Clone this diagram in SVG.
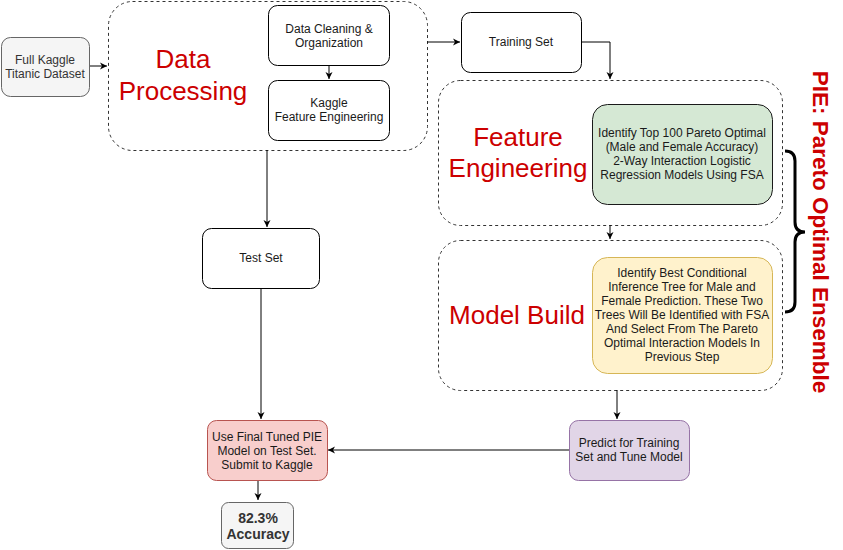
<svg xmlns="http://www.w3.org/2000/svg" width="843" height="550" viewBox="0 0 843 550">
<defs>
<marker id="arr" markerWidth="8" markerHeight="8" refX="7" refY="4" orient="auto" markerUnits="userSpaceOnUse">
<path d="M0,0.5 L7,4 L0,7.5 L2,4 z" fill="#000"/>
</marker>
<style>
.t{font-family:"Liberation Sans",Arial,sans-serif;font-size:12px;fill:#1a1a1a;text-anchor:middle}
.g{fill:#333}
.big{font-family:"Liberation Sans",Arial,sans-serif;font-size:26px;fill:#CC0000;text-anchor:middle}
.box{fill:#fff;stroke:#000;stroke-width:1}
.cont{fill:#fff;stroke:#333;stroke-width:1;stroke-dasharray:3 3}
.c{fill:none;stroke:#000;stroke-width:1;marker-end:url(#arr)}
</style>
</defs>
<rect width="843" height="550" fill="#fff"/>

<g id="data-processing">
<rect class="cont" x="108.5" y="1.5" width="319" height="149" rx="24"/>
<text class="big" x="183" y="68">Data</text>
<text class="big" x="183" y="100">Processing</text>
</g>
<g id="feature-engineering">
<rect class="cont" x="438.5" y="80.5" width="344" height="145" rx="22"/>
<text class="big" x="518" y="146">Feature</text>
<text class="big" x="518" y="177">Engineering</text>
</g>
<g id="model-build">
<rect class="cont" x="438.5" y="240.5" width="344" height="150" rx="22"/>
<text class="big" x="517" y="324">Model Build</text>
</g>

<g id="connectors">
<path class="c" d="M89,66 H107"/>
<path class="c" d="M329,65 V79"/>
<path class="c" d="M427,42 H460"/>
<path class="c" d="M581,42 H610 V79"/>
<path class="c" d="M610,225 V239"/>
<path class="c" d="M267,150 V227"/>
<path class="c" d="M261,288 V419"/>
<path class="c" d="M617,390 V419"/>
<path class="c" d="M569,450 H328"/>
<path class="c" d="M258,480 V500"/>
</g>

<g id="full-kaggle">
<rect x="1.5" y="37.5" width="88" height="59" rx="9" fill="#f5f5f5" stroke="#666"/>
<text class="t g" x="45" y="64">Full Kaggle</text>
<text class="t g" x="45" y="78">Titanic Dataset</text>
</g>
<g id="data-cleaning">
<rect class="box" x="268.5" y="5.5" width="121" height="60" rx="9"/>
<text class="t" x="329" y="33">Data Cleaning &amp;</text>
<text class="t" x="329" y="47">Organization</text>
</g>
<g id="kaggle-fe">
<rect class="box" x="268.5" y="80.5" width="121" height="60" rx="9"/>
<text class="t" x="329" y="107">Kaggle</text>
<text class="t" x="329" y="121">Feature Engineering</text>
</g>
<g id="training-set">
<rect class="box" x="461.5" y="12.5" width="120" height="60" rx="9"/>
<text class="t" x="521" y="46">Training Set</text>
</g>
<g id="pareto-models">
<rect x="592.5" y="104.5" width="180" height="100" rx="15" fill="#d5e8d4" stroke="#1a1a1a"/>
<text class="t" x="682" y="137">Identify Top 100 Pareto Optimal</text>
<text class="t" x="682" y="151">(Male and Female Accuracy)</text>
<text class="t" x="682" y="165">2-Way Interaction Logistic</text>
<text class="t" x="682" y="179">Regression Models Using FSA</text>
</g>
<g id="ctree">
<rect x="592.5" y="257.5" width="180" height="116" rx="15" fill="#fff2cc" stroke="#d6b656"/>
<text class="t" x="682" y="277">Identify Best Conditional</text>
<text class="t" x="682" y="291">Inference Tree for Male and</text>
<text class="t" x="682" y="305">Female Prediction. These Two</text>
<text class="t" x="682" y="319">Trees Will Be Identified with FSA</text>
<text class="t" x="682" y="333">And Select From The Pareto</text>
<text class="t" x="682" y="347">Optimal Interaction Models In</text>
<text class="t" x="682" y="361">Previous Step</text>
</g>
<g id="test-set">
<rect class="box" x="202.5" y="228.5" width="117" height="60" rx="9"/>
<text class="t" x="261" y="262">Test Set</text>
</g>
<g id="final-pie">
<rect x="207.5" y="420.5" width="120" height="60" rx="9" fill="#f8cecc" stroke="#b85450"/>
<text class="t" x="267" y="441">Use Final Tuned PIE</text>
<text class="t" x="267" y="455">Model on Test Set.</text>
<text class="t" x="267" y="469">Submit to Kaggle</text>
</g>
<g id="predict">
<rect x="569.5" y="420.5" width="120" height="60" rx="9" fill="#e1d5e7" stroke="#9673a6"/>
<text class="t" x="629" y="447">Predict for Training</text>
<text class="t" x="629" y="461">Set and Tune Model</text>
</g>
<g id="accuracy">
<rect x="221.5" y="502.5" width="72" height="46" rx="7" fill="#f5f5f5" stroke="#666"/>
<text class="t g" x="258" y="523" style="font-weight:bold;font-size:14px">82.3%</text>
<text class="t g" x="258" y="539" style="font-weight:bold;font-size:14px">Accuracy</text>
</g>
<g id="pie-brace">
<path d="M785,151 Q795,151 795,161 V222 Q795,232 805,232 Q795,232 795,242 V302 Q795,312 785,312" fill="none" stroke="#000" stroke-width="3"/>
<text x="820" y="232" transform="rotate(90 820 232)" text-anchor="middle" dominant-baseline="central" style="font-family:'Liberation Sans',Arial,sans-serif;font-size:22.5px;font-weight:bold;fill:#CC0000">PIE: Pareto Optimal Ensemble</text>
</g>
</svg>
